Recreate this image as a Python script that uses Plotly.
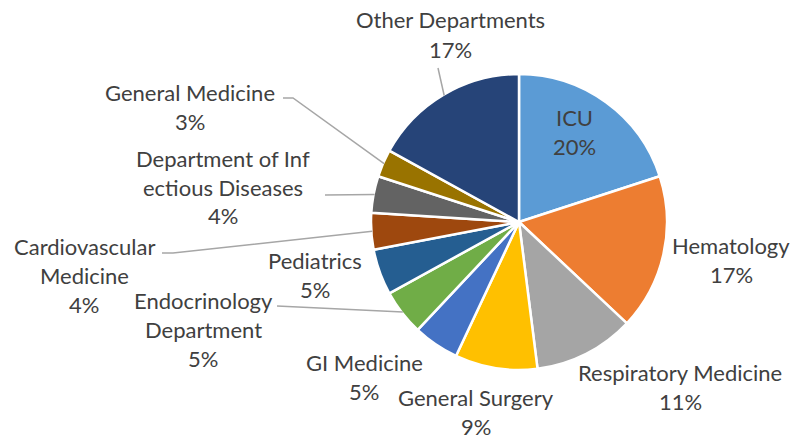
import math
import plotly.graph_objects as go

W, H = 795, 439

departments = ["ICU", "Hematology", "Respiratory Medicine", "General Surgery", "GI Medicine",
               "Endocrinology Department", "Pediatrics", "Cardiovascular Medicine",
               "Department of Infectious Diseases", "General Medicine", "Other Departments"]
shares = [20, 17, 11, 9, 5, 5, 5, 4, 4, 3, 17]
pct_text = ["20%", "17%", "11%", "9%", "5%", "5%", "5%", "4%", "4%", "3%", "17%"]
colors = ["#5B9BD5", "#ED7D31", "#A5A5A5", "#FFC000", "#4472C4", "#70AD47",
          "#255E91", "#9E480E", "#636363", "#997300", "#264478"]

# how each label is broken into lines (as in the original)
label_lines = [["ICU"], ["Hematology"], ["Respiratory Medicine"], ["General Surgery"], ["GI Medicine"],
               ["Endocrinology", "Department"], ["Pediatrics"], ["Cardiovascular", "Medicine"],
               ["Department of Inf", "ectious Diseases"], ["General Medicine"], ["Other Departments"]]

# layout: pie centre / radius in pixels, label block centre (x, y of first line)
cx, cy, r = 519, 222, 148
label_pos = [(574, 117), (731, 245), (680, 372), (476, 397), (364, 362), (203, 300),
             (315, 260), (84, 246), (223, 158), (190, 92), (450, 20)]
line_gap = 29
# leader lines: start point(s) near the label, end at the slice edge
leaders = {5: [(277, 306)], 7: [(162, 253), (173, 253)], 8: [(325, 195)],
           9: [(283, 98), (293, 98)], 10: [(438, 68)]}

fig = go.Figure(go.Pie(
    labels=departments, values=shares, sort=False, direction="clockwise", rotation=0,
    marker=dict(colors=colors, line=dict(color="white", width=2.5)),
    textinfo="none", showlegend=False,
    domain=dict(x=[(cx - r) / W, (cx + r) / W], y=[(H - cy - r) / H, (H - cy + r) / H]),
))

font = dict(family="Lato, Open Sans, sans-serif", size=22, color="#404040")
annotations = []
for i, lines in enumerate(label_lines):
    x0, y0 = label_pos[i]
    for k, t in enumerate(lines + [pct_text[i]]):
        annotations.append(dict(x=x0 / W, y=1 - (y0 + k * line_gap) / H, xref="paper", yref="paper",
                                text=t, showarrow=False, xanchor="center", yanchor="middle", font=font))

shapes = []
total = sum(shares)
cum = 0
mids = []
for v in shares:
    mids.append((cum + v / 2) / total * 2 * math.pi)
    cum += v
for i, pts in leaders.items():
    a = mids[i]
    ex, ey = cx + (r - 1) * math.sin(a), cy - (r - 1) * math.cos(a)
    path_pts = pts + [(ex, ey)]
    d = "M " + " L ".join(f"{px / W},{1 - py / H}" for px, py in path_pts)
    shapes.append(dict(type="path", path=d, xref="paper", yref="paper",
                       line=dict(color="#A6A6A6", width=1.5)))

fig.update_layout(width=W, height=H, margin=dict(l=0, r=0, t=0, b=0),
                  paper_bgcolor="white", plot_bgcolor="white",
                  annotations=annotations, shapes=shapes)
fig.write_html("out.html", config={"displayModeBar": False},
               post_script="document.body.style.margin='0';")
